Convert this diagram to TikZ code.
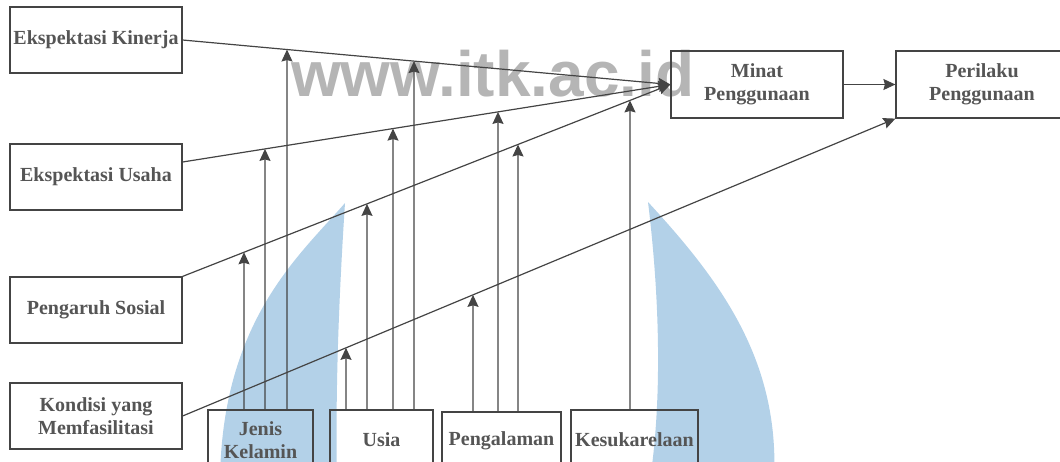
\documentclass[tikz,border=0pt]{standalone}
\usepackage{fontspec}
\setmainfont{Liberation Serif}
\newfontfamily\wmfont{Liberation Sans}
\usetikzlibrary{arrows.meta,calc}
\definecolor{txtgray}{HTML}{555555}
\definecolor{linegray}{HTML}{444444}
\definecolor{wmgray}{HTML}{B5B5B5}
\definecolor{wmblue}{HTML}{B3D1E8}
\begin{document}
\begin{tikzpicture}[x=1pt,y=-1pt,
  box/.style={draw=linegray, line width=1.2pt, inner sep=0pt, align=center, text=txtgray,
    font=\bfseries\fontsize{20}{23.5}\selectfont},
  arr/.style={draw=linegray, line width=1.2pt, -{Stealth[length=12pt,width=11pt,inset=1.5pt]}},
  wmtext/.style={text=wmgray, inner sep=0pt, anchor=base west, font=\wmfont\bfseries\fontsize{64}{64}\selectfont}
]
\useasboundingbox (0,0) rectangle (1060,461);
\clip (0,0) rectangle (1060,461);
% watermark
\fill[wmblue] (345,203) .. controls (300,255) and (222,320) .. (220,480)
  -- (337,480) .. controls (335,380) and (340,280) .. (345,203) -- cycle;
\fill[wmblue] (648,202) .. controls (660,300) and (662,400) .. (650,480)
  -- (774,480) .. controls (780,360) and (720,280) .. (648,202) -- cycle;
\node[wmtext] (wm) at (291,96) {www.itk.ac.id};
% boxes
\node[box, minimum width=172pt, minimum height=66pt] (ek) at (96,40) {Ekspektasi Kinerja};
\node[box, minimum width=172pt, minimum height=66pt] (eu) at (96,177) {Ekspektasi Usaha};
\node[box, minimum width=172pt, minimum height=66pt] (ps) at (96,310) {Pengaruh Sosial};
\node[box, minimum width=172pt, minimum height=66pt] (kf) at (96,416) {Kondisi yang\\Memfasilitasi};
\node[box, minimum width=172pt, minimum height=67pt] (mi) at (757,84.5) {Minat\\Penggunaan};
\node[box, minimum width=172pt, minimum height=67pt] (pe) at (982,84.5) {Perilaku\\Penggunaan};
\node[box, minimum width=105pt, minimum height=60pt] (jk) at (260.5,440) {Jenis\\Kelamin};
\node[box, minimum width=103pt, minimum height=60pt] (us) at (381.5,440) {Usia};
\node[box, minimum width=119pt, minimum height=58pt] (pg) at (501.5,441) {Pengalaman};
\node[box, minimum width=127pt, minimum height=60pt] (ks) at (634.5,440) {Kesukarelaan};
% main connectors
\draw[arr] (ek.east) -- (mi.west);
\draw[arr] ([yshift=15pt]eu.east) -- (mi.west);
\draw[arr] (ps.north east) -- (mi.west);
\draw[arr] (kf.east) -- (pe.south west);
\draw[arr] (mi.east) -- (pe.west);
% intersection points on the main connectors
\coordinate (j1) at (intersection cs:first line={(ps.north east)--(mi.west)}, second line={(244,0)--(244,400)});
\coordinate (j2) at (intersection cs:first line={([yshift=15pt]eu.east)--(mi.west)}, second line={(265,0)--(265,400)});
\coordinate (j3) at (intersection cs:first line={(ek.east)--(mi.west)}, second line={(287,0)--(287,400)});
\coordinate (u1) at (intersection cs:first line={(kf.east)--(pe.south west)}, second line={(346,0)--(346,400)});
\coordinate (u2) at (intersection cs:first line={(ps.north east)--(mi.west)}, second line={(367,0)--(367,400)});
\coordinate (u3) at (intersection cs:first line={([yshift=15pt]eu.east)--(mi.west)}, second line={(393,0)--(393,400)});
\coordinate (u4) at (intersection cs:first line={(ek.east)--(mi.west)}, second line={(414,0)--(414,400)});
\coordinate (p1) at (intersection cs:first line={(kf.east)--(pe.south west)}, second line={(473,0)--(473,400)});
\coordinate (p2) at (intersection cs:first line={([yshift=15pt]eu.east)--(mi.west)}, second line={(498,0)--(498,400)});
\coordinate (p3) at (intersection cs:first line={(ps.north east)--(mi.west)}, second line={(518,0)--(518,400)});
\coordinate (k1) at (intersection cs:first line={(ps.north east)--(mi.west)}, second line={(630,0)--(630,400)});
% moderator connectors
\draw[arr] ([xshift=-16.5pt]jk.north) -- (j1);
\draw[arr] ([xshift=4.5pt]jk.north) -- (j2);
\draw[arr] ([xshift=26.5pt]jk.north) -- (j3);
\draw[arr] ([xshift=-35.5pt]us.north) -- (u1);
\draw[arr] ([xshift=-14.5pt]us.north) -- (u2);
\draw[arr] ([xshift=11.5pt]us.north) -- (u3);
\draw[arr] ([xshift=32.5pt]us.north) -- (u4);
\draw[arr] ([xshift=-28.5pt]pg.north) -- (p1);
\draw[arr] ([xshift=-3.5pt]pg.north) -- (p2);
\draw[arr] ([xshift=16.5pt]pg.north) -- (p3);
\draw[arr] ([xshift=-4.5pt]ks.north) -- (k1);
\end{tikzpicture}
\end{document}
